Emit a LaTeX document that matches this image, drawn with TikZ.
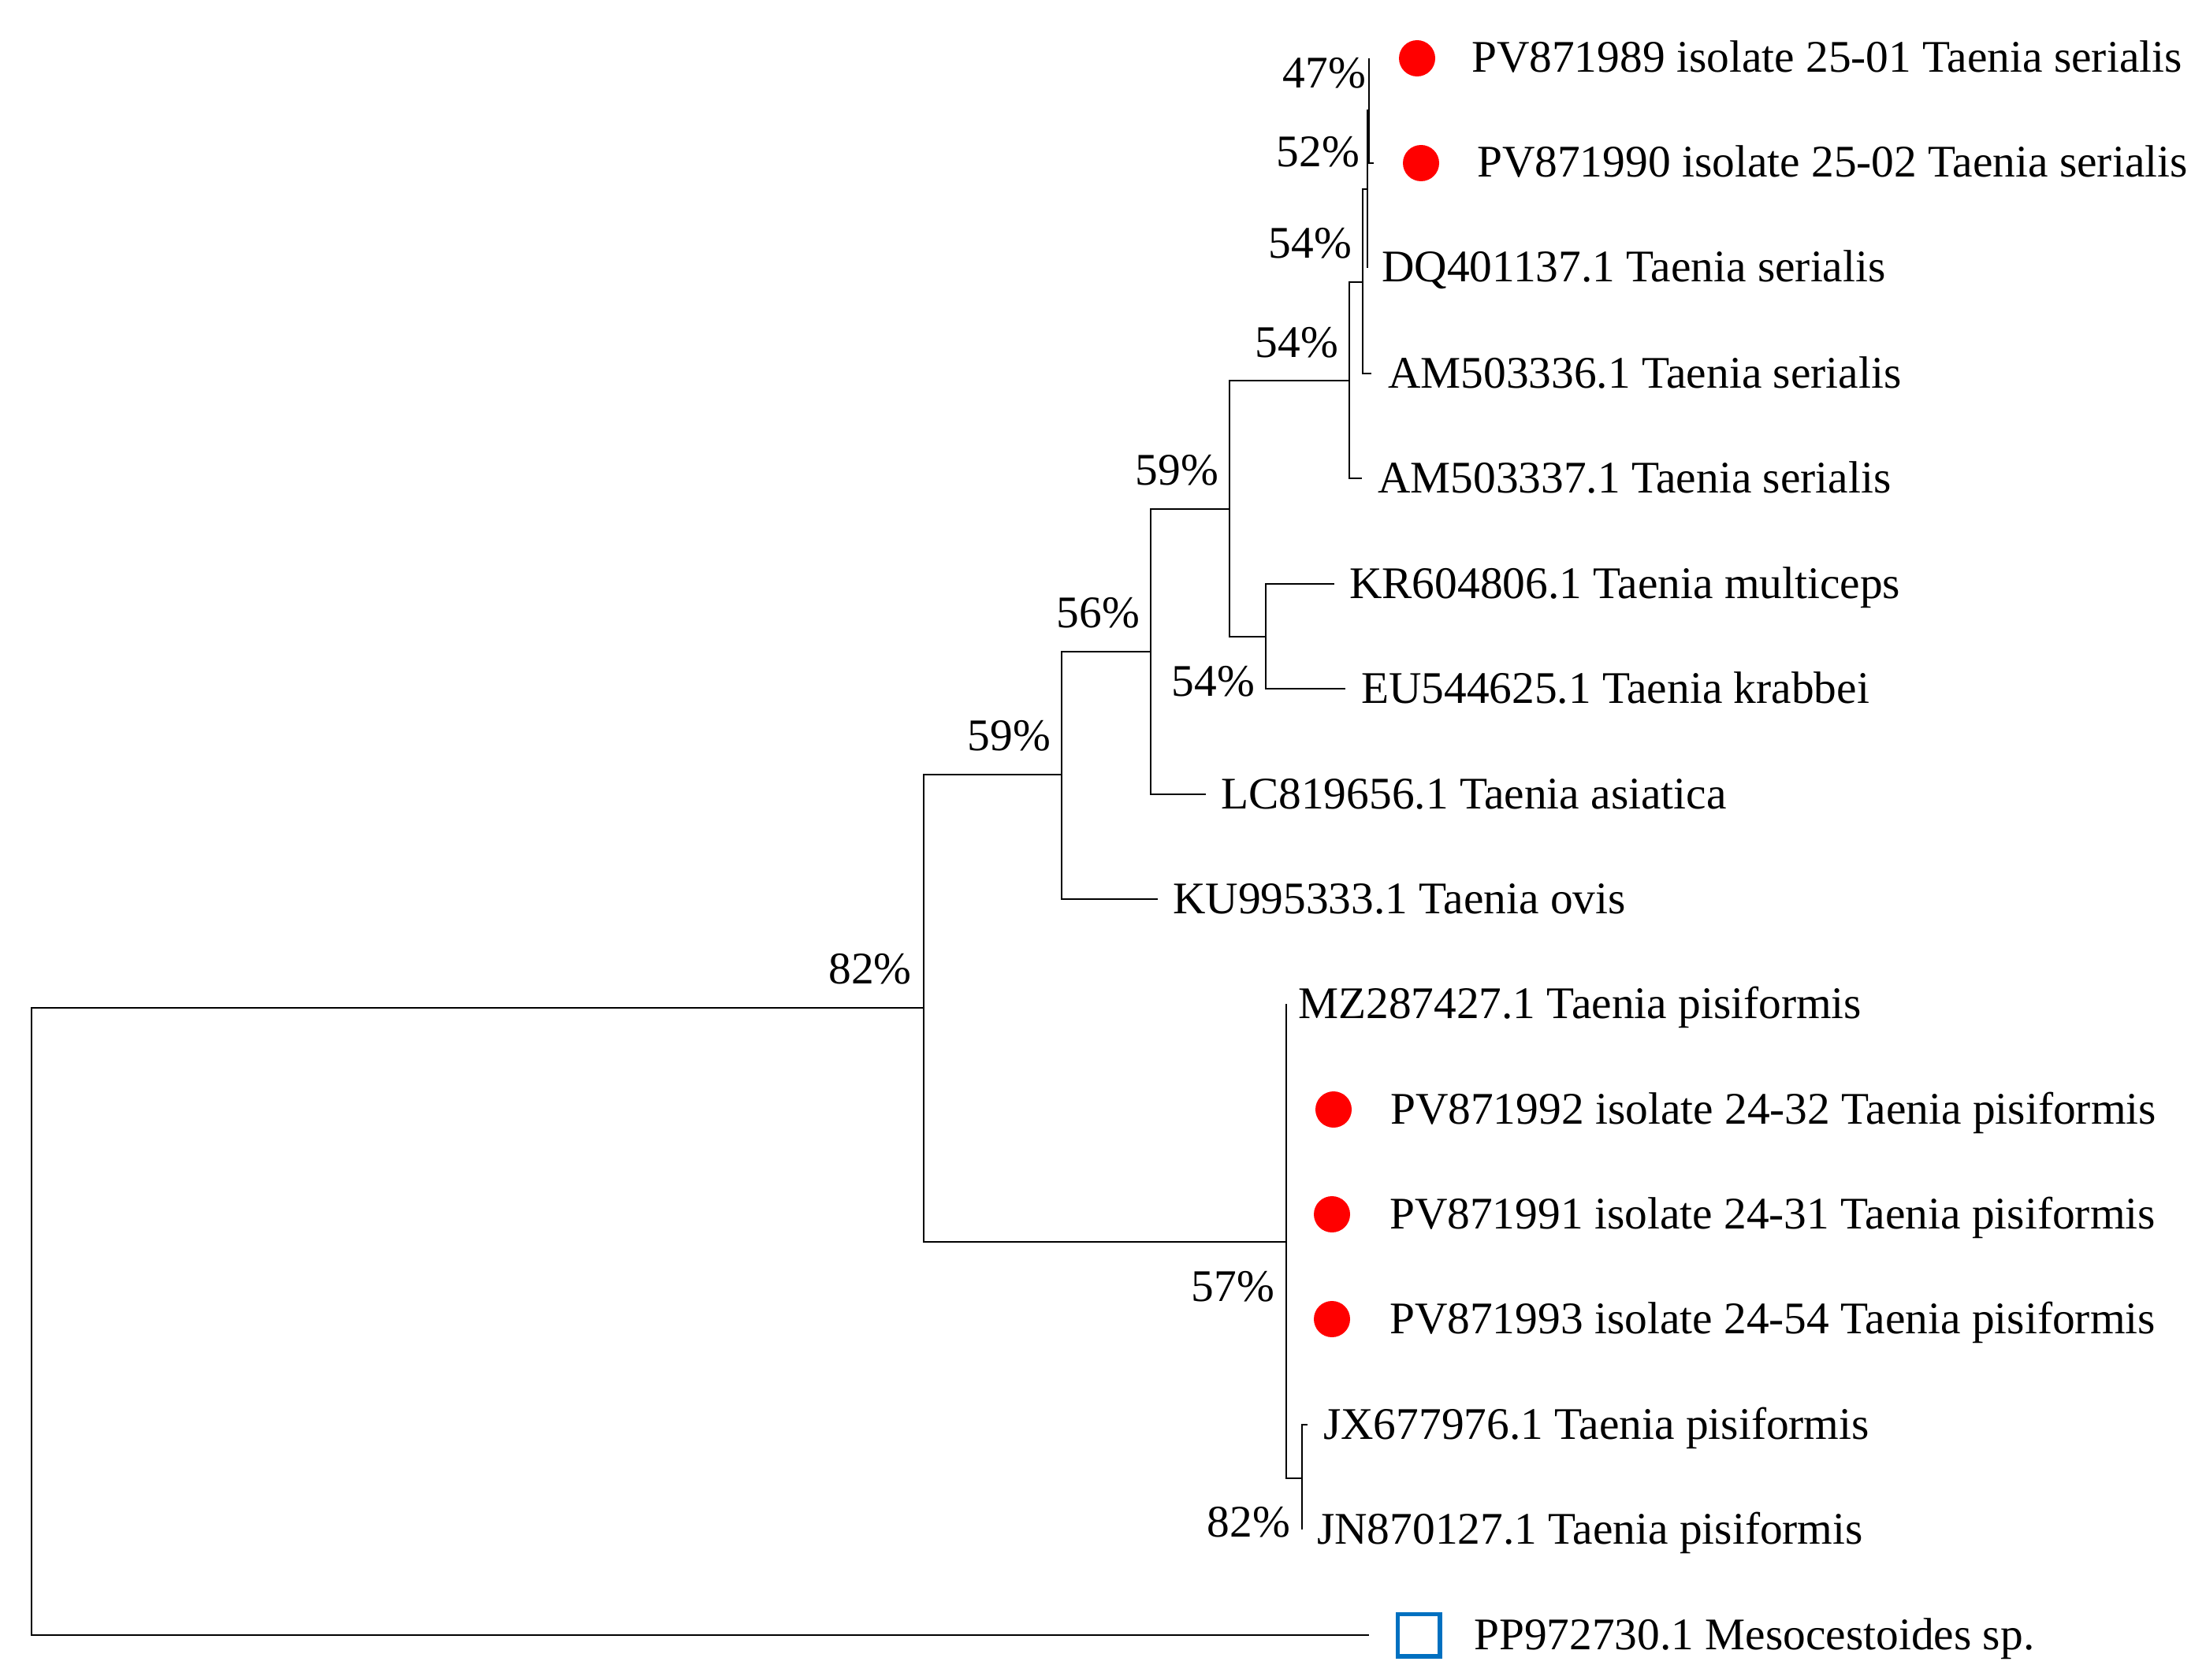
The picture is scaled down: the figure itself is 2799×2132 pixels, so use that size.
\documentclass[tikz,border=0pt]{standalone}
\usepackage{fontspec}
\setmainfont{Liberation Serif}
\definecolor{sqblue}{RGB}{0,112,192}
\begin{document}
\begin{tikzpicture}[x=1pt,y=-1pt,
  branch/.style={line width=2.2pt},
  leaflabel/.style={anchor=base west, inner sep=0pt, font=\fontsize{57.4}{60}\selectfont},
  bootlabel/.style={anchor=base east, inner sep=0pt, font=\fontsize{57.4}{60}\selectfont},
  isolatedot/.style={circle, fill=red, draw=none, inner sep=0pt, minimum size=46pt},
  outgroupbox/.style={rectangle, draw=sqblue, line width=5.5pt, fill=white, inner sep=0pt, minimum size=53.5pt}]
\useasboundingbox (0,0) rectangle (2799,2132);
% internal nodes
\coordinate (A) at (1737,140);
\coordinate (B) at (1735,240);
\coordinate (C) at (1729,358);
\coordinate (D) at (1712,483);
\coordinate (E) at (1560,646);
\coordinate (F) at (1606,808);
\coordinate (G) at (1460,827);
\coordinate (H) at (1347,983);
\coordinate (R) at (1172,1279);
\coordinate (P) at (1632,1576);
\coordinate (Q) at (1652,1876);
\coordinate (Root) at (40,1676);
% leaf tips
\coordinate (L0) at (1737,74);
\coordinate (L1) at (1743,207);
\coordinate (L2) at (1735,340);
\coordinate (L3) at (1740,474);
\coordinate (L4) at (1728,607);
\coordinate (L5) at (1693,741);
\coordinate (L6) at (1707,874);
\coordinate (L7) at (1530,1008);
\coordinate (L8) at (1469,1141);
\coordinate (L9) at (1632,1274);
\coordinate (L10) at (1632,1408);
\coordinate (L11) at (1632,1541);
\coordinate (L12) at (1632,1674);
\coordinate (L13) at (1659,1808);
\coordinate (L14) at (1652,1941);
\coordinate (L15) at (1737,2075);
% branches
\draw[branch] (A) |- (L0);
\draw[branch] (A) |- (L1);
\draw[branch] (B) |- (A);
\draw[branch] (B) |- (L2);
\draw[branch] (C) |- (B);
\draw[branch] (C) |- (L3);
\draw[branch] (D) |- (C);
\draw[branch] (D) |- (L4);
\draw[branch] (E) |- (D);
\draw[branch] (E) |- (F);
\draw[branch] (F) |- (L5);
\draw[branch] (F) |- (L6);
\draw[branch] (G) |- (E);
\draw[branch] (G) |- (L7);
\draw[branch] (H) |- (G);
\draw[branch] (H) |- (L8);
\draw[branch] (R) |- (H);
\draw[branch] (R) |- (P);
\draw[branch] (P) |- (L9);
\draw[branch] (P) |- (L10);
\draw[branch] (P) |- (L11);
\draw[branch] (P) |- (L12);
\draw[branch] (P) |- (Q);
\draw[branch] (Q) |- (L13);
\draw[branch] (Q) |- (L14);
\draw[branch] (Root) |- (R);
\draw[branch] (Root) |- (L15);
% markers
\node[isolatedot] (m0) at (1798,74) {};
\node[isolatedot] (m1) at (1803,207) {};
\node[isolatedot] (m10) at (1692,1408) {};
\node[isolatedot] (m11) at (1690,1541) {};
\node[isolatedot] (m12) at (1690,1674) {};
\node[outgroupbox] (m15) at (1800,2075) {};
% leaf labels
\node[leaflabel] (t0) at (1867,92) {PV871989 isolate 25-01 Taenia serialis};
\node[leaflabel] (t1) at (1874,225) {PV871990 isolate 25-02 Taenia serialis};
\node[leaflabel] (t2) at (1753,358) {DQ401137.1 Taenia serialis};
\node[leaflabel] (t3) at (1761,492) {AM503336.1 Taenia serialis};
\node[leaflabel] (t4) at (1748,625) {AM503337.1 Taenia serialis};
\node[leaflabel] (t5) at (1712,759) {KR604806.1 Taenia multiceps};
\node[leaflabel] (t6) at (1727,892) {EU544625.1 Taenia krabbei};
\node[leaflabel] (t7) at (1549,1026) {LC819656.1 Taenia asiatica};
\node[leaflabel] (t8) at (1488,1159) {KU995333.1 Taenia ovis};
\node[leaflabel] (t9) at (1647,1292) {MZ287427.1 Taenia pisiformis};
\node[leaflabel] (t10) at (1764,1426) {PV871992 isolate 24-32 Taenia pisiformis};
\node[leaflabel] (t11) at (1763,1559) {PV871991 isolate 24-31 Taenia pisiformis};
\node[leaflabel] (t12) at (1763,1692) {PV871993 isolate 24-54 Taenia pisiformis};
\node[leaflabel] (t13) at (1679,1826) {JX677976.1 Taenia pisiformis};
\node[leaflabel] (t14) at (1671,1959) {JN870127.1 Taenia pisiformis};
\node[leaflabel] (t15) at (1870,2093) {PP972730.1 Mesocestoides sp.};
% bootstrap labels
\node[bootlabel] (bA) at (1733,112) {47\%};
\node[bootlabel] (bB) at (1725,212) {52\%};
\node[bootlabel] (bC) at (1715,328) {54\%};
\node[bootlabel] (bD) at (1698,453) {54\%};
\node[bootlabel] (bE) at (1546,615) {59\%};
\node[bootlabel] (bF) at (1592,883) {54\%};
\node[bootlabel] (bG) at (1446,796) {56\%};
\node[bootlabel] (bH) at (1333,952) {59\%};
\node[bootlabel] (bR) at (1157,1248) {82\%};
\node[bootlabel] (bP) at (1617,1651) {57\%};
\node[bootlabel] (bQ) at (1637,1950) {82\%};
\end{tikzpicture}
\end{document}
